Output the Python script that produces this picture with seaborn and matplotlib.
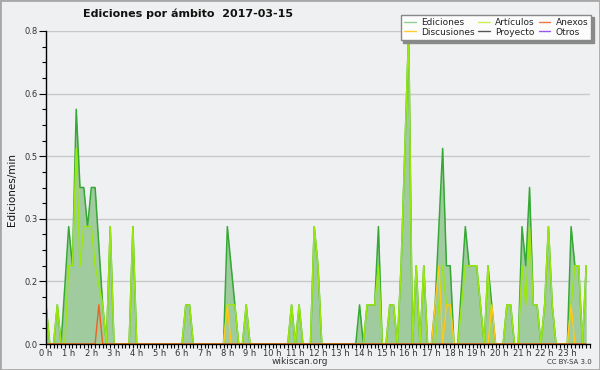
import numpy as np
import pandas as pd
import matplotlib
matplotlib.use("Agg")
import matplotlib.pyplot as plt
import seaborn as sns
from matplotlib.lines import Line2D
from matplotlib.patches import Rectangle
from matplotlib.ticker import FixedLocator, MultipleLocator

# Ediciones por minuto, intervalos de 10 min (6 por hora, 0 h .. 23 h 50)
ediciones = [
    0.1, 0, 0, 0.1, 0, 0.15,        # 0 h
    0.3, 0.2, 0.6, 0.4, 0.4, 0.3,   # 1 h
    0.4, 0.4, 0.25, 0.1, 0, 0.3,    # 2 h
    0, 0, 0, 0, 0, 0.3,             # 3 h
    0, 0, 0, 0, 0, 0,               # 4 h
    0, 0, 0, 0, 0, 0,               # 5 h
    0, 0.1, 0.1, 0, 0, 0,           # 6 h
    0, 0, 0, 0, 0, 0,               # 7 h
    0.3, 0.2, 0.1, 0, 0, 0.1,       # 8 h
    0, 0, 0, 0, 0, 0,               # 9 h
    0, 0, 0, 0, 0, 0.1,             # 10 h
    0, 0.1, 0, 0, 0, 0.3,           # 11 h
    0.2, 0, 0, 0, 0, 0,             # 12 h
    0, 0, 0, 0, 0, 0.1,             # 13 h
    0, 0.1, 0.1, 0.1, 0.3, 0,       # 14 h
    0, 0.1, 0.1, 0, 0.2, 0.5,       # 15 h
    0.8, 0, 0.2, 0, 0.2, 0,         # 16 h
    0, 0.1, 0.3, 0.5, 0.2, 0.2,     # 17 h
    0, 0, 0.15, 0.3, 0.2, 0.2,      # 18 h
    0.2, 0.1, 0, 0.2, 0.1, 0,       # 19 h
    0, 0, 0.1, 0.1, 0, 0,           # 20 h
    0.3, 0.2, 0.4, 0.1, 0.1, 0,     # 21 h
    0.1, 0.3, 0.1, 0, 0, 0,         # 22 h
    0, 0.3, 0.2, 0.2, 0, 0.2,       # 23 h
]

articulos = [
    0.1, 0, 0, 0.1, 0, 0,
    0.2, 0.2, 0.5, 0.2, 0.3, 0.3,
    0.3, 0.2, 0.15, 0.1, 0, 0.3,
    0, 0, 0, 0, 0, 0.3,
    0, 0, 0, 0, 0, 0,
    0, 0, 0, 0, 0, 0,
    0, 0.1, 0.1, 0, 0, 0,
    0, 0, 0, 0, 0, 0,
    0.1, 0.1, 0.1, 0, 0, 0.1,
    0, 0, 0, 0, 0, 0,
    0, 0, 0, 0, 0, 0.1,
    0, 0.1, 0, 0, 0, 0.3,
    0.2, 0, 0, 0, 0, 0,
    0, 0, 0, 0, 0, 0,
    0, 0.1, 0.1, 0.1, 0.2, 0,
    0, 0.1, 0.1, 0, 0.2, 0.5,
    0.8, 0, 0.2, 0, 0.2, 0,
    0, 0, 0.1, 0.2, 0.1, 0.1,
    0, 0, 0.1, 0.2, 0.2, 0.2,
    0.2, 0.1, 0, 0.2, 0, 0,
    0, 0, 0.1, 0.1, 0, 0,
    0.2, 0.1, 0.3, 0.1, 0.1, 0,
    0.1, 0.3, 0.1, 0, 0, 0,
    0, 0.1, 0.2, 0.2, 0, 0.2,
]

discusiones = [
    0, 0, 0, 0, 0, 0,
    0, 0, 0, 0, 0, 0,
    0, 0, 0, 0, 0, 0,
    0, 0, 0, 0, 0, 0,
    0, 0, 0, 0, 0, 0,
    0, 0, 0, 0, 0, 0,
    0, 0, 0, 0, 0, 0,
    0, 0, 0, 0, 0, 0,
    0.1, 0, 0, 0, 0, 0,
    0, 0, 0, 0, 0, 0,
    0, 0, 0, 0, 0, 0,
    0, 0, 0, 0, 0, 0,
    0, 0, 0, 0, 0, 0,
    0, 0, 0, 0, 0, 0,
    0, 0, 0, 0, 0, 0,
    0, 0, 0, 0, 0, 0,
    0, 0, 0, 0, 0, 0,
    0, 0.1, 0.2, 0, 0.1, 0.1,
    0, 0, 0, 0, 0, 0,
    0, 0, 0, 0, 0.1, 0,
    0, 0, 0, 0, 0, 0,
    0, 0, 0, 0, 0, 0,
    0, 0, 0, 0, 0, 0,
    0, 0.1, 0, 0, 0, 0,
]

anexos = [
    0, 0, 0, 0, 0, 0,
    0, 0, 0, 0, 0, 0,
    0, 0, 0.1, 0, 0, 0,
    0, 0, 0, 0, 0, 0,
    0, 0, 0, 0, 0, 0,
    0, 0, 0, 0, 0, 0,
    0, 0, 0, 0, 0, 0,
    0, 0, 0, 0, 0, 0,
    0, 0, 0, 0, 0, 0,
    0, 0, 0, 0, 0, 0,
    0, 0, 0, 0, 0, 0,
    0, 0, 0, 0, 0, 0,
    0, 0, 0, 0, 0, 0,
    0, 0, 0, 0, 0, 0,
    0, 0, 0, 0, 0, 0,
    0, 0, 0, 0, 0, 0,
    0, 0, 0, 0, 0, 0,
    0, 0, 0, 0, 0, 0,
    0, 0, 0, 0, 0, 0,
    0, 0, 0, 0, 0, 0,
    0, 0, 0, 0, 0, 0,
    0, 0, 0, 0, 0, 0,
    0, 0, 0, 0, 0, 0,
    0, 0, 0, 0, 0, 0,
]

hour_labels = [f"{h} h" for h in range(24)]
legend_labels = ["Ediciones", "Discusiones", "Artículos", "Proyecto", "Anexos", "Otros"]
legend_colors = ["#8fd08f", "#ffcc33", "#ccee55", "#555555", "#ee7744", "#9955ee"]

df = pd.DataFrame({
    "hora": np.arange(len(ediciones)) / 6,
    "ediciones": ediciones,
    "articulos": articulos,
    "discusiones": discusiones,
    "anexos": anexos,
})

sns.set_theme(style="white")
plt.rcParams["font.family"] = ["DejaVu Sans"]

bg = "#eff0f1"
fig = plt.figure(figsize=(6, 3.7), dpi=100, facecolor=bg)
ax = fig.add_axes([46 / 600, 26 / 370, 544 / 600, 313 / 370])
ax.set_facecolor(bg)

# area + lineas
ax.fill_between(df["hora"], df["ediciones"], color="#9fcb9f", lw=0, zorder=2)
sns.lineplot(data=df, x="hora", y="ediciones", color="#35a835", lw=1.1, ax=ax, zorder=3)
sns.lineplot(data=df, x="hora", y="articulos", color="#9ae810", lw=1.1, ax=ax, zorder=4)
sns.lineplot(data=df, x="hora", y="discusiones", color="#ffc81a", lw=1.0, ax=ax, zorder=5)
sns.lineplot(data=df, x="hora", y="anexos", color="#f06020", lw=1.0, ax=ax, zorder=5)

ax.set_xlim(0, 24)
ax.set_ylim(0, 0.8)
ax.set_xlabel("")
ax.set_ylabel("")

ax.xaxis.set_major_locator(FixedLocator(range(24)))
ax.set_xticklabels(hour_labels)
ax.xaxis.set_minor_locator(MultipleLocator(1 / 6))
yt = np.linspace(0, 0.8, 6)
ax.yaxis.set_major_locator(FixedLocator(yt))
ax.set_yticklabels([f"{v:.1f}" for v in yt])
ax.yaxis.set_minor_locator(MultipleLocator(0.04))

ax.tick_params(axis="x", which="both", direction="out", length=3, width=0.8,
               color="black", labelsize=6, pad=0.5, labelcolor="#333333", bottom=True)
ax.tick_params(axis="y", which="major", direction="out", length=5, width=0.8,
               color="black", labelsize=6, pad=1, labelcolor="#333333", left=True)
ax.tick_params(axis="y", which="minor", direction="out", length=3, width=0.8,
               color="black", left=True)

ax.yaxis.grid(True, which="major", color="#c9c9c9", lw=1)
ax.set_axisbelow(True)
for s in ["top", "right"]:
    ax.spines[s].set_visible(False)
for s in ["left", "bottom"]:
    ax.spines[s].set_color("black")
    ax.spines[s].set_linewidth(1)
    ax.spines[s].set_zorder(6)

# textos
fig.text(188 / 600, 1 - 14 / 370, "Ediciones por ámbito  2017-03-15",
         ha="center", va="center", fontsize=8, fontweight="bold", color="#111111")
fig.text(12 / 600, 1 - 189 / 370, "Ediciones/min", rotation=90,
         ha="center", va="center", fontsize=7.5, color="#111111")
fig.text(300 / 600, 1 - 361 / 370, "wikiscan.org", ha="center", va="center",
         fontsize=6.5, color="#333333")
fig.text(569 / 600, 1 - 362 / 370, "CC BY-SA 3.0", ha="center", va="center",
         fontsize=5, color="#333333")

handles = [Line2D([], [], color=c, lw=1) for c in legend_colors]
leg = fig.legend(handles, legend_labels, ncol=3, loc="upper right",
                 bbox_to_anchor=(596 / 600, 1 - 10 / 370), fontsize=6.5,
                 handlelength=1.3, handletextpad=0.6, columnspacing=0.4,
                 labelspacing=0.1, borderpad=0.35, fancybox=False, framealpha=1,
                 facecolor="#fcfcfc", edgecolor="#888888",
                 shadow={"color": "#8a8a8a", "alpha": 1, "ox": 2, "oy": -2})
for t in leg.get_texts():
    t.set_color("#222222")

fig.patches.append(Rectangle((0, 0), 1, 1, transform=fig.transFigure, fill=False,
                             edgecolor="#a8a8a8", lw=2))

fig.savefig("out.png", dpi=100, facecolor=bg)
